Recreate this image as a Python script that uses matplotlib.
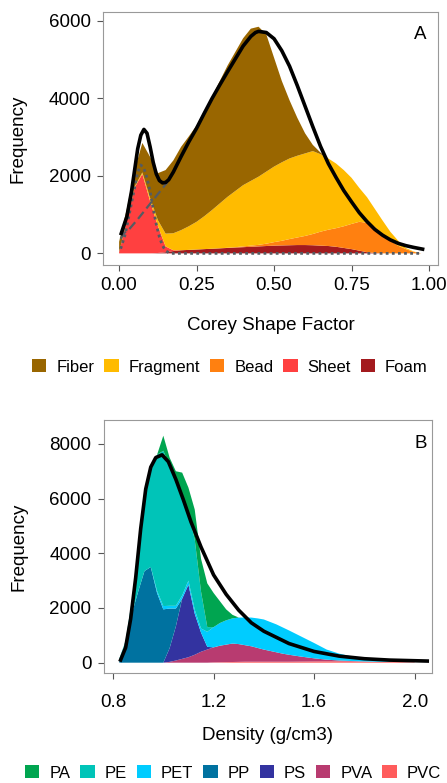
import matplotlib
matplotlib.use("Agg")
import matplotlib.pyplot as plt
from matplotlib.patches import Patch

plt.rcParams['font.family'] = ['Liberation Sans', 'DejaVu Sans']

# ---------------- panel A : Corey shape factor ----------------
csf = [0.0, 0.025, 0.05, 0.075, 0.1, 0.125, 0.15, 0.175, 0.2, 0.225,
       0.25, 0.275, 0.3, 0.325, 0.35, 0.375, 0.4, 0.425, 0.45, 0.475,
       0.5, 0.525, 0.55, 0.575, 0.6, 0.625, 0.65, 0.675, 0.7, 0.725,
       0.75, 0.775, 0.8, 0.825, 0.85, 0.875, 0.9, 0.925, 0.95, 0.975]
foam = [0, 0, 0, 0, 0, 10, 30, 60, 80, 90,
        100, 110, 120, 130, 140, 150, 160, 170, 180, 190,
        200, 205, 210, 215, 215, 210, 200, 190, 170, 140,
        110, 70, 30, 10, 0, 0, 0, 0, 0, 0]
sheet = [30, 850, 1700, 2050, 1350, 700, 150, 20, 0, 0,
         0, 0, 0, 0, 0, 0, 0, 0, 0, 0,
         0, 0, 0, 0, 0, 0, 0, 0, 0, 0,
         0, 0, 0, 0, 0, 0, 0, 0, 0, 0]
bead = [0, 0, 0, 0, 0, 0, 0, 0, 0, 0,
        0, 0, 0, 0, 5, 10, 20, 30, 40, 60,
        90, 120, 160, 195, 235, 290, 360, 420, 480, 560,
        650, 745, 760, 680, 500, 330, 200, 110, 40, 0]
fragment = [0, 0, 20, 40, 80, 150, 330, 440, 520, 610,
            715, 850, 1000, 1160, 1315, 1450, 1580, 1670, 1760, 1860,
            1950, 2025, 2080, 2110, 2130, 2140, 2000, 1840, 1670, 1450,
            1190, 875, 660, 460, 350, 230, 130, 30, 10, 0]
fiber = [270, 300, 430, 760, 1060, 1210, 1640, 1880, 2150, 2320,
         2485, 2720, 2930, 3160, 3390, 3590, 3790, 3930, 3870, 3540,
         2810, 2100, 1500, 980, 520, 160, 40, 0, 0, 0,
         0, 0, 0, 0, 0, 0, 0, 0, 0, 0]

# fitted mixture curve and its two components
fit_a_x = [0.005, 0.025, 0.04, 0.05, 0.06, 0.07, 0.08, 0.09, 0.1, 0.11,
           0.12, 0.13, 0.14, 0.15, 0.16, 0.175, 0.2, 0.225, 0.25, 0.275,
           0.3, 0.325, 0.35, 0.375, 0.4, 0.425, 0.44, 0.45, 0.475, 0.5,
           0.525, 0.55, 0.575, 0.6, 0.625, 0.65, 0.675, 0.7, 0.725, 0.75,
           0.775, 0.8, 0.825, 0.85, 0.875, 0.9, 0.925, 0.95, 0.985]
fit_a_y = [470, 950, 1600, 2150, 2700, 3050, 3200, 3100, 2750, 2350,
           2050, 1880, 1820, 1830, 1900, 2100, 2500, 2880, 3230, 3620,
           4000, 4350, 4690, 5020, 5350, 5600, 5700, 5730, 5700, 5540,
           5230, 4830, 4330, 3800, 3270, 2760, 2320, 1960, 1620, 1330,
           1050, 820, 620, 470, 350, 260, 200, 155, 100]
comp1_x = [0.005, 0.02, 0.035, 0.05, 0.06, 0.07, 0.08, 0.09, 0.1, 0.11,
           0.12, 0.13, 0.14, 0.15, 0.16, 0.17, 0.97]
comp1_y = [120, 500, 1100, 1700, 2100, 2280, 2200, 1950, 1600, 1150,
           750, 420, 200, 70, 20, 0, 0]
comp2_x = [0.005, 0.015, 0.03, 0.06, 0.09, 0.12, 0.155]
comp2_y = [380, 520, 600, 880, 1180, 1480, 1830]

shape_names = ['Fiber', 'Fragment', 'Bead', 'Sheet', 'Foam']
shape_cols = ['#996600', '#FFBB00', '#FF8010', '#FF4040', '#A31A1E']

# ---------------- panel B : density ----------------
dens = [0.825, 0.85, 0.875, 0.9, 0.925, 0.95, 0.975, 1.0, 1.025, 1.05,
        1.075, 1.1, 1.125, 1.15, 1.175, 1.2, 1.225, 1.25, 1.275, 1.3,
        1.325, 1.35, 1.375, 1.4, 1.425, 1.45, 1.475, 1.5, 1.55, 1.6,
        1.65, 1.7, 1.75, 1.8, 1.85, 1.9, 1.95, 2.0]
pvc = [0, 0, 0, 0, 0, 0, 0, 0, 0, 0,
       0, 0, 0, 0, 0, 10, 15, 20, 25, 30,
       35, 35, 35, 35, 35, 35, 35, 35, 40, 45,
       50, 50, 45, 40, 35, 30, 25, 15]
pva = [0, 0, 0, 0, 0, 0, 0, 0, 30, 80,
       140, 200, 290, 400, 480, 550, 605, 640, 675, 650,
       605, 565, 505, 445, 395, 345, 295, 255, 180, 115,
       60, 30, 15, 5, 0, 0, 0, 0]
ps = [0, 0, 0, 0, 0, 0, 0, 0, 500, 1250,
      2200, 2650, 1500, 700, 100, 0, 0, 0, 0, 0,
      0, 0, 0, 0, 0, 0, 0, 0, 0, 0,
      0, 0, 0, 0, 0, 0, 0, 0]
pp = [100, 750, 1800, 2600, 3350, 3500, 2550, 1950, 1450, 650,
      0, 0, 0, 0, 0, 0, 0, 0, 0, 0,
      0, 0, 0, 0, 0, 0, 0, 0, 0, 0,
      0, 0, 0, 0, 0, 0, 0, 0]
pet = [0, 0, 0, 0, 0, 0, 80, 120, 100, 100,
       120, 150, 150, 150, 550, 740, 830, 890, 920, 970,
       1010, 1050, 1080, 1100, 1060, 1020, 960, 890, 730, 560,
       370, 250, 170, 105, 65, 30, 5, 0]
pe = [50, 50, 500, 1500, 2600, 3600, 4970, 5680, 5120, 4620,
      3740, 2500, 2560, 1350, 170, 0, 0, 0, 0, 0,
      0, 0, 0, 0, 0, 0, 0, 0, 0, 0,
      0, 0, 0, 0, 0, 0, 0, 0]
pa = [0, 0, 0, 0, 0, 0, 0, 550, 300, 300,
      750, 900, 1100, 1200, 1600, 1250, 800, 400, 130, 0,
      0, 0, 0, 0, 0, 0, 0, 0, 0, 0,
      0, 0, 0, 0, 0, 0, 0, 0]

fit_b_x = [0.83, 0.85, 0.87, 0.89, 0.91, 0.93, 0.95, 0.97, 0.995, 1.02,
           1.05, 1.08, 1.11, 1.15, 1.2, 1.25, 1.3, 1.35, 1.4, 1.5,
           1.6, 1.7, 1.8, 1.9, 2.05]
fit_b_y = [100, 550, 1600, 3100, 4900, 6350, 7150, 7500, 7600, 7350,
           6700, 5950, 5150, 4230, 3210, 2500, 1920, 1460, 1150, 700,
           410, 240, 145, 95, 60]

polymer_names = ['PA', 'PE', 'PET', 'PP', 'PS', 'PVA', 'PVC']
polymer_cols = ['#00A550', '#00C4B8', '#00CCFF', '#0072A0', '#3333A0', '#B83B70', '#FF5C5C']

W, H = 447, 783
fig = plt.figure(figsize=(W / 100, H / 100), dpi=100)
FS = 13.5


def style_axes(ax, xpad):
    for s in ax.spines.values():
        s.set_color('#999999')
        s.set_linewidth(0.8)
    ax.tick_params(direction='out', length=4, width=0.8, color='#555555',
                   labelsize=FS, pad=5)
    ax.tick_params(axis='x', pad=xpad)
    ax.set_ylabel('Frequency', fontsize=FS, labelpad=16)


# panel A
axA = fig.add_axes([103 / W, 1 - 265 / H, 335 / W, 253 / H])
axA.stackplot(csf, foam, sheet, bead, fragment, fiber,
              colors=shape_cols[::-1], linewidth=0)
axA.plot(comp2_x, comp2_y, color='#555b62', lw=1.6, ls=(0, (4, 2)))
axA.plot(comp1_x, comp1_y, color='#555b62', lw=2.0, ls=(0, (1, 1.2)))
axA.plot(fit_a_x, fit_a_y, color='black', lw=2.6, solid_capstyle='butt')
axA.set_xlim(-0.052, 1.029)
axA.set_ylim(-300, 6230)
axA.set_xticks([0, 0.25, 0.5, 0.75, 1.0])
axA.set_xticklabels(['0.00', '0.25', '0.50', '0.75', '1.00'])
axA.set_yticks([0, 2000, 4000, 6000])
style_axes(axA, 5)
axA.set_xlabel('Corey Shape Factor', fontsize=FS, labelpad=16)
axA.text(0.946, 0.913, 'A', transform=axA.transAxes, fontsize=FS,
         ha='center', va='center')

# panel B
axB = fig.add_axes([104 / W, 1 - 673 / H, 328 / W, 253 / H])
axB.stackplot(dens, pvc, pva, ps, pp, pet, pe, pa,
              colors=polymer_cols[::-1], linewidth=0)
axB.plot(fit_b_x, fit_b_y, color='black', lw=2.6)
axB.set_xlim(0.764, 2.069)
axB.set_ylim(-377, 8874)
axB.set_xticks([0.8, 1.2, 1.6, 2.0])
axB.set_xticklabels(['0.8', '1.2', '1.6', '2.0'])
axB.set_yticks([0, 2000, 4000, 6000, 8000])
style_axes(axB, 11)
axB.set_xlabel('Density (g/cm3)', fontsize=FS, labelpad=12)
axB.text(0.965, 0.908, 'B', transform=axB.transAxes, fontsize=FS,
         ha='center', va='center')

# legends
hA = [Patch(facecolor=c, edgecolor='none') for c in shape_cols]
fig.legend(hA, shape_names, loc='center', bbox_to_anchor=(230 / W, 1 - 367 / H),
           ncol=5, frameon=False, fontsize=12, handlelength=0.85,
           handleheight=0.8, handletextpad=0.6, columnspacing=0.6)
hB = [Patch(facecolor=c, edgecolor='none') for c in polymer_cols]
fig.legend(hB, polymer_names, loc='center', bbox_to_anchor=(233 / W, 1 - 773 / H),
           ncol=7, frameon=False, fontsize=12, handlelength=0.85,
           handleheight=0.8, handletextpad=0.6, columnspacing=0.6)

fig.savefig('out.png', dpi=100)
